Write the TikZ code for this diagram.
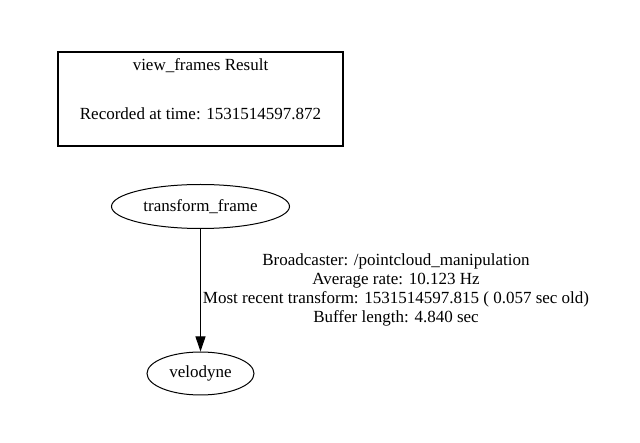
\documentclass[tikz,border=0pt]{standalone}
\usepackage{fontspec}
\setmainfont{Liberation Serif}
\usetikzlibrary{shapes.geometric,arrows.meta}
\tikzset{
  frame/.style={ellipse,draw,line width=1pt,inner sep=0pt,font=\fontsize{17}{19}\selectfont},
  txt/.style={inner sep=0pt,font=\fontsize{17}{19}\selectfont,align=center},
}
\begin{document}
\begin{tikzpicture}[x=1pt,y=-1pt]
\useasboundingbox (0,0) rectangle (640,443);
\node[draw,line width=2pt,minimum width=285pt,minimum height=94pt,inner sep=0pt] (box) at (200.5,99) {};
\node[txt] (title) at (200.5,66) {view\_frames Result};
\node[txt] (rec) at (200.5,114) {Recorded at time: 1531514597.872};
\node[frame,minimum width=178pt,minimum height=44pt] (tf) at (200.5,206.5) {transform\_frame};
\node[frame,minimum width=107pt,minimum height=43pt] (vel) at (200.5,373.5) {velodyne};
\draw[line width=1pt,-{Triangle[length=15pt,width=10pt]}] (tf) -- (vel);
\node[txt] (lab) at (396,289.5) {Broadcaster: /pointcloud\_manipulation\\Average rate: 10.123 Hz\\Most recent transform: 1531514597.815 ( 0.057 sec old)\\Buffer length: 4.840 sec};
\end{tikzpicture}
\end{document}
